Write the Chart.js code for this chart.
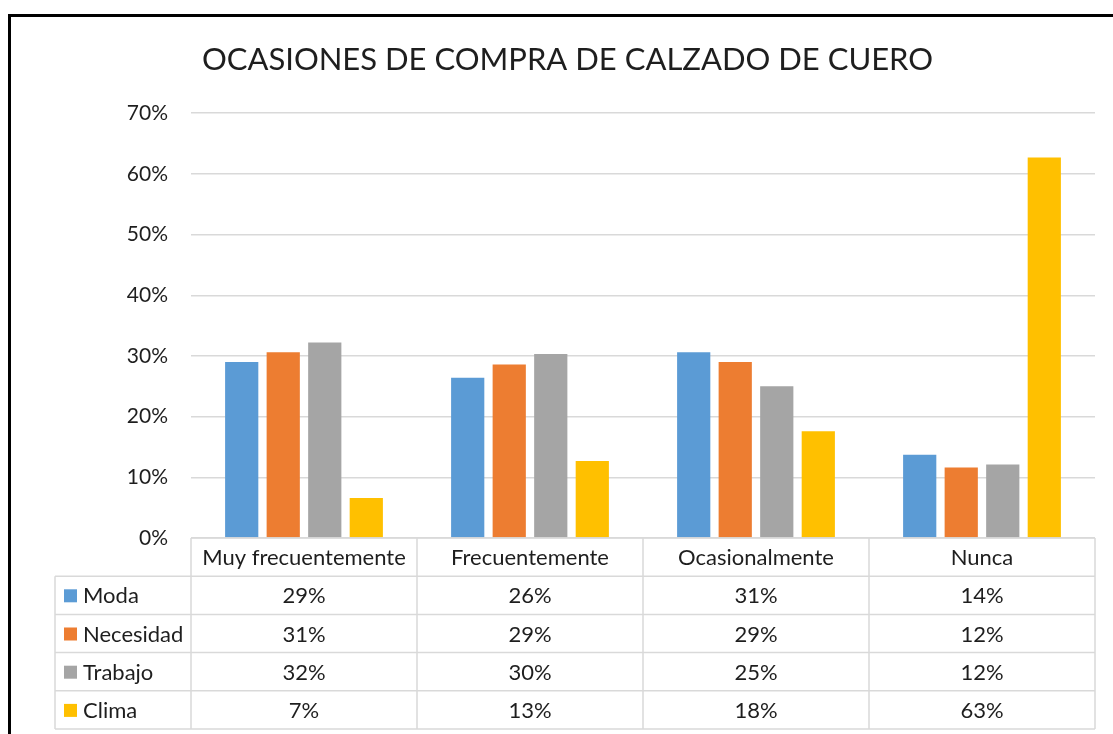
<!DOCTYPE html>
<html>
<head>
<meta charset="utf-8">
<title>Ocasiones de compra de calzado de cuero</title>
<script src="https://cdn.jsdelivr.net/npm/chart.js@4.4.0/dist/chart.umd.min.js"></script>
<style>
  html, body { margin: 0; padding: 0; background: #fff; }
  #wrap { position: relative; width: 1113px; height: 734px; }
</style>
</head>
<body>
<div id="wrap"><canvas id="grafico" width="1113" height="734"></canvas></div>
<script>
// Datos del grafico (porcentajes)
var categorias = ['Muy frecuentemente', 'Frecuentemente', 'Ocasionalmente', 'Nunca'];
var moda      = [29.0, 26.4, 30.6, 13.7];
var necesidad = [30.6, 28.6, 29.0, 11.6];
var trabajo   = [32.2, 30.3, 25.0, 12.1];
var clima     = [6.6, 12.7, 17.6, 62.7];
var series    = ['Moda', 'Necesidad', 'Trabajo', 'Clima'];
var colores   = ['#5B9BD5', '#ED7D31', '#A5A5A5', '#FFC000'];
var valores   = [moda, necesidad, trabajo, clima];

var fuente = 'Lato, "Noto Sans", sans-serif';
var colorTexto = '#1e1e1e';
var colorLinea = '#d9d9d9';

// Fondo blanco y marco negro
var marco = {
    id: 'marco',
    beforeDraw: function (chart) {
        var c = chart.ctx;
        c.save();
        c.fillStyle = '#fff';
        c.fillRect(0, 0, chart.width, chart.height);
        c.strokeStyle = '#000';
        c.lineWidth = 3;
        c.strokeRect(9.5, 15.5, 1300, 900);
        c.restore();
    }
};

// Tabla de datos debajo del eje X (como en Excel)
var tablaDatos = {
    id: 'tablaDatos',
    afterDraw: function (chart) {
        var c = chart.ctx;
        var area = chart.chartArea;
        var x = chart.scales.x;
        var ancho = (area.right - area.left) / categorias.length;
        var alto = 38.2;
        var top = area.bottom;
        var izq = 55;
        var filas = series.length;
        var fondo = top + alto * (filas + 1);

        c.save();
        c.strokeStyle = colorLinea;
        c.lineWidth = 1.5;
        c.beginPath();
        // lineas horizontales
        c.moveTo(area.left, top); c.lineTo(area.right, top);
        for (var r = 1; r <= filas + 1; r++) {
            c.moveTo(izq, top + alto * r); c.lineTo(area.right, top + alto * r);
        }
        // lineas verticales
        for (var i = 0; i <= categorias.length; i++) {
            var lx = area.left + ancho * i;
            c.moveTo(lx, top); c.lineTo(lx, fondo);
        }
        c.moveTo(izq, top + alto); c.lineTo(izq, fondo);
        c.stroke();

        c.fillStyle = colorTexto;
        c.font = '22px ' + fuente;
        c.textAlign = 'center';
        c.textBaseline = 'middle';
        categorias.forEach(function (cat, i) {
            c.fillText(cat, x.getPixelForValue(i), top + alto / 2 + 1);
        });
        valores.forEach(function (serie, s) {
            var cy = top + alto * (s + 1) + alto / 2 + 1;
            c.textAlign = 'center';
            c.fillStyle = colorTexto;
            serie.forEach(function (v, i) {
                c.fillText(Math.round(v) + '%', x.getPixelForValue(i), cy);
            });
            c.fillStyle = colores[s];
            c.fillRect(izq + 9, cy - 7, 13, 13);
            c.fillStyle = colorTexto;
            c.textAlign = 'left';
            c.fillText(series[s], izq + 28, cy);
        });
        c.restore();
    }
};

var ctx = document.getElementById('grafico').getContext('2d');
var grafico = new Chart(ctx, {
    type: 'bar',
    data: {
        labels: categorias,
        datasets: series.map(function (nombre, s) {
            return {
                label: nombre,
                data: valores[s],
                backgroundColor: colores[s],
                categoryPercentage: 0.735,
                barPercentage: 0.8
            };
        })
    },
    options: {
        responsive: false,
        animation: false,
        layout: { padding: { left: 40, right: 18, top: 0, bottom: 196 } },
        scales: {
            x: {
                display: false
            },
            y: {
                min: 0,
                max: 70,
                ticks: {
                    stepSize: 10,
                    padding: 23,
                    color: colorTexto,
                    font: { family: fuente, size: 21 },
                    callback: function (v) { return v + '%'; }
                },
                grid: { color: colorLinea, lineWidth: 1.5, drawTicks: false },
                border: { display: false },
                afterFit: function (scale) { scale.width = 151; }
            }
        },
        plugins: {
            legend: { display: false },
            tooltip: { enabled: false },
            title: {
                display: true,
                text: 'OCASIONES DE COMPRA DE CALZADO DE CUERO',
                color: colorTexto,
                font: { family: fuente, size: 31, weight: 'normal' },
                padding: { top: 41, bottom: 35 }
            }
        }
    },
    plugins: [marco, tablaDatos]
});
</script>
</body>
</html>
